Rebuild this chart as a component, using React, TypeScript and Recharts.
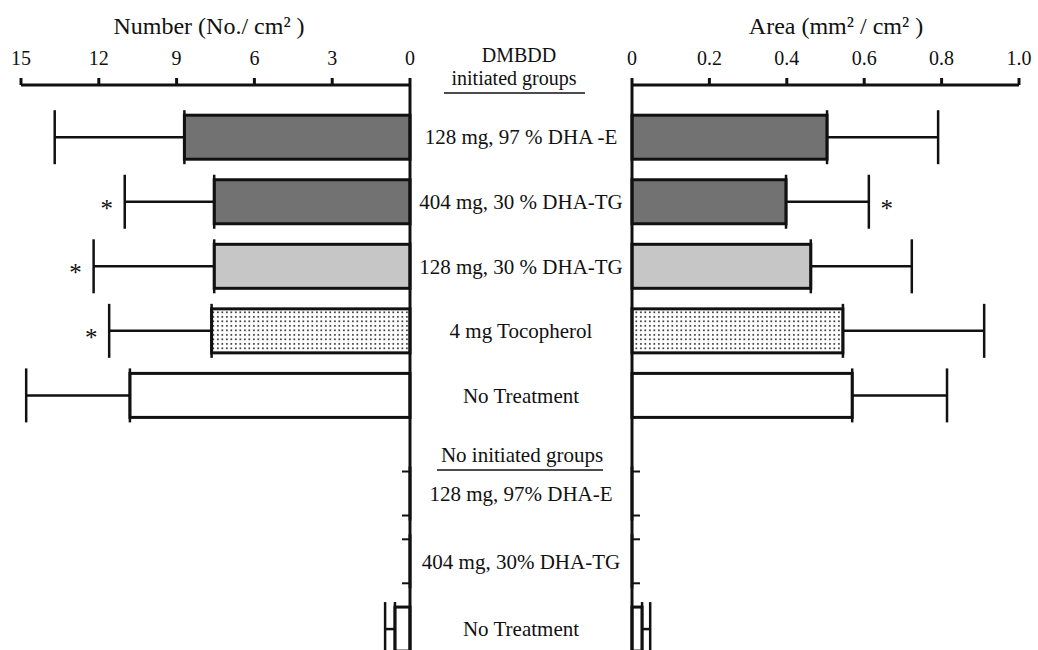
import React from "react";
import { BarChart, Bar, XAxis, YAxis, ErrorBar } from "recharts";

const FONT = "'Liberation Serif', 'Times New Roman', serif";
const INK = "#111";

// group labels (centre column)
const initiatedGroups = [
  "128 mg, 97 % DHA -E",
  "404 mg, 30 % DHA-TG",
  "128 mg, 30 % DHA-TG",
  "4 mg Tocopherol",
  "No Treatment",
];
const nonInitiatedGroups = ["128 mg, 97% DHA-E", "404 mg, 30% DHA-TG", "No Treatment"];

// Number (No./cm2): mean and SD, one entry per row (initiated first)
const numberMean = [8.7, 7.55, 7.55, 7.65, 10.8, 0, 0, 0.58];
const numberSD = [5.0, 3.45, 4.65, 3.95, 4.0, 0, 0, 0.38];
const numberSignificant = [false, true, true, true, false, false, false, false];

// Area (mm2/cm2)
const areaMean = [0.504, 0.398, 0.462, 0.545, 0.569, 0, 0, 0.026];
const areaSD = [0.287, 0.214, 0.261, 0.365, 0.245, 0, 0, 0.021];
const areaSignificant = [false, true, false, false, false, false, false, false];

const numberTicks = [0, 3, 6, 9, 12, 15];
const areaTicks = [0, 0.2, 0.4, 0.6, 0.8, 1.0];

// fill per row
const FILLS = [
  "#727272",
  "#727272",
  "#c6c6c6",
  "url(#dots)",
  "#ffffff",
  "#ffffff",
  "#ffffff",
  "#ffffff",
];

// second group sits below a sub-header, so it starts a bit further down
const GROUP2_START = 5.52;
const GROUP2_STEP = 1.05;

const rows = [
  ...initiatedGroups.map((label, i) => ({ label, pos: i })),
  ...nonInitiatedGroups.map((label, i) => ({ label, pos: GROUP2_START + i * GROUP2_STEP })),
].map((r, i) => ({
  ...r,
  idx: i,
  num: numberMean[i],
  numErr: [0, numberSD[i]],
  numSd: numberSD[i],
  numSig: numberSignificant[i],
  area: areaMean[i],
  areaErr: [0, areaSD[i]],
  areaSd: areaSD[i],
  areaSig: areaSignificant[i],
}));

const Y_DOMAIN: [number, number] = [-0.813, 7.94];
const AXIS_H = 30;
const TOP = 85 - AXIS_H;
const H = 650;

const CenterTick = (props: any) => {
  const { x, y, payload } = props;
  const row = rows.find((r) => Math.abs(r.pos - payload.value) < 1e-6);
  if (!row) return null;
  return (
    <text x={x + 111} y={y + 7} textAnchor="middle" fontFamily={FONT} fontSize={21} fill={INK}>
      {row.label}
    </text>
  );
};

const makeShape =
  (side: "left" | "right", valueKey: string, sdKey: string, sigKey: string) => (props: any) => {
    const { x, y, width, height, payload } = props;
    const v = payload[valueKey];
    const dir = side === "left" ? -1 : 1;
    if (!v) {
      return (
        <g>
          <line x1={x} x2={x + dir * 8} y1={y} y2={y} stroke={INK} strokeWidth={2} />
          <line x1={x} x2={x + dir * 8} y1={y + height} y2={y + height} stroke={INK} strokeWidth={2} />
        </g>
      );
    }
    const left = Math.min(x, x + width);
    const w = Math.abs(width);
    const tip = side === "left" ? left : left + w;
    const errX = tip + (dir * payload[sdKey] * w) / v;
    return (
      <g>
        <rect x={left} y={y} width={w} height={height} fill={FILLS[payload.idx]} stroke={INK} strokeWidth={3} />
        {payload[sigKey] && (
          <text x={errX + dir * 18} y={y + height / 2 + 15} textAnchor="middle" fontFamily={FONT} fontSize={25} fill={INK}>
            *
          </text>
        )}
      </g>
    );
  };

const tickStyle = { fontSize: 20, fill: INK, fontFamily: FONT };

export default function App() {
  return (
    <div style={{ position: "absolute", left: 0, top: 0, width: 1038, height: H, background: "#fff" }}>
      <svg width={0} height={0} style={{ position: "absolute" }}>
        <defs>
          <pattern id="dots" width={4.5} height={4.5} patternUnits="userSpaceOnUse">
            <rect width={4.5} height={4.5} fill="#fff" />
            <rect x={1} y={1} width={1.7} height={1.7} fill="#333" />
          </pattern>
        </defs>
      </svg>

      {/* left: Number */}
      <div style={{ position: "absolute", left: 0, top: 0 }}>
        <BarChart
          width={632}
          height={H}
          data={rows}
          layout="vertical"
          margin={{ top: TOP, right: 0, left: 21, bottom: 0 }}
        >
          <XAxis
            type="number"
            orientation="top"
            reversed
            height={AXIS_H}
            domain={[0, 15]}
            ticks={numberTicks}
            interval={0}
            axisLine={{ stroke: INK, strokeWidth: 3 }}
            tickLine={{ stroke: INK, strokeWidth: 3 }}
            tickSize={7}
            tickMargin={13}
            tick={tickStyle}
          />
          <YAxis
            type="number"
            dataKey="pos"
            orientation="right"
            domain={Y_DOMAIN}
            ticks={rows.map((r) => r.pos)}
            interval={0}
            width={222}
            axisLine={{ stroke: INK, strokeWidth: 3 }}
            tickLine={false}
            tickSize={0}
            tickMargin={0}
            tick={<CenterTick />}
          />
          <Bar
            dataKey="num"
            barSize={44}
            isAnimationActive={false}
            shape={makeShape("left", "num", "numSd", "numSig")}
          >
            <ErrorBar dataKey="numErr" direction="x" width={27} strokeWidth={2.5} stroke={INK} />
          </Bar>
        </BarChart>
      </div>

      {/* right: Area */}
      <div style={{ position: "absolute", left: 612, top: 0 }}>
        <BarChart
          width={426}
          height={H}
          data={rows}
          layout="vertical"
          margin={{ top: TOP, right: 19, left: 0, bottom: 0 }}
        >
          <XAxis
            type="number"
            orientation="top"
            height={AXIS_H}
            domain={[0, 1]}
            ticks={areaTicks}
            interval={0}
            tickFormatter={(t: number) => (t === 0 ? "0" : t.toFixed(1))}
            axisLine={{ stroke: INK, strokeWidth: 3 }}
            tickLine={{ stroke: INK, strokeWidth: 3 }}
            tickSize={7}
            tickMargin={13}
            tick={tickStyle}
          />
          <YAxis
            type="number"
            dataKey="pos"
            domain={Y_DOMAIN}
            width={20}
            axisLine={{ stroke: INK, strokeWidth: 3 }}
            tickLine={false}
            tick={false}
          />
          <Bar
            dataKey="area"
            barSize={44}
            isAnimationActive={false}
            shape={makeShape("right", "area", "areaSd", "areaSig")}
          >
            <ErrorBar dataKey="areaErr" direction="x" width={27} strokeWidth={2.5} stroke={INK} />
          </Bar>
        </BarChart>
      </div>

      {/* titles and group headers */}
      <svg
        width={1038}
        height={H}
        style={{ position: "absolute", left: 0, top: 0, pointerEvents: "none" }}
        fontFamily={FONT}
        fill={INK}
      >
        <text x={209} y={34} textAnchor="middle" fontSize={24}>
          Number (No./ cm² )
        </text>
        <text x={836} y={34} textAnchor="middle" fontSize={24}>
          Area (mm² / cm² )
        </text>
        <text x={519} y={62} textAnchor="middle" fontSize={20}>
          DMBDD
        </text>
        <text x={514} y={85} textAnchor="middle" fontSize={20}>
          initiated groups
        </text>
        <line x1={444} x2={585} y1={93} y2={93} stroke={INK} strokeWidth={1.5} />
        <text x={522} y={462} textAnchor="middle" fontSize={21}>
          No initiated groups
        </text>
        <line x1={437} x2={603} y1={470} y2={470} stroke={INK} strokeWidth={1.5} />
      </svg>
    </div>
  );
}
